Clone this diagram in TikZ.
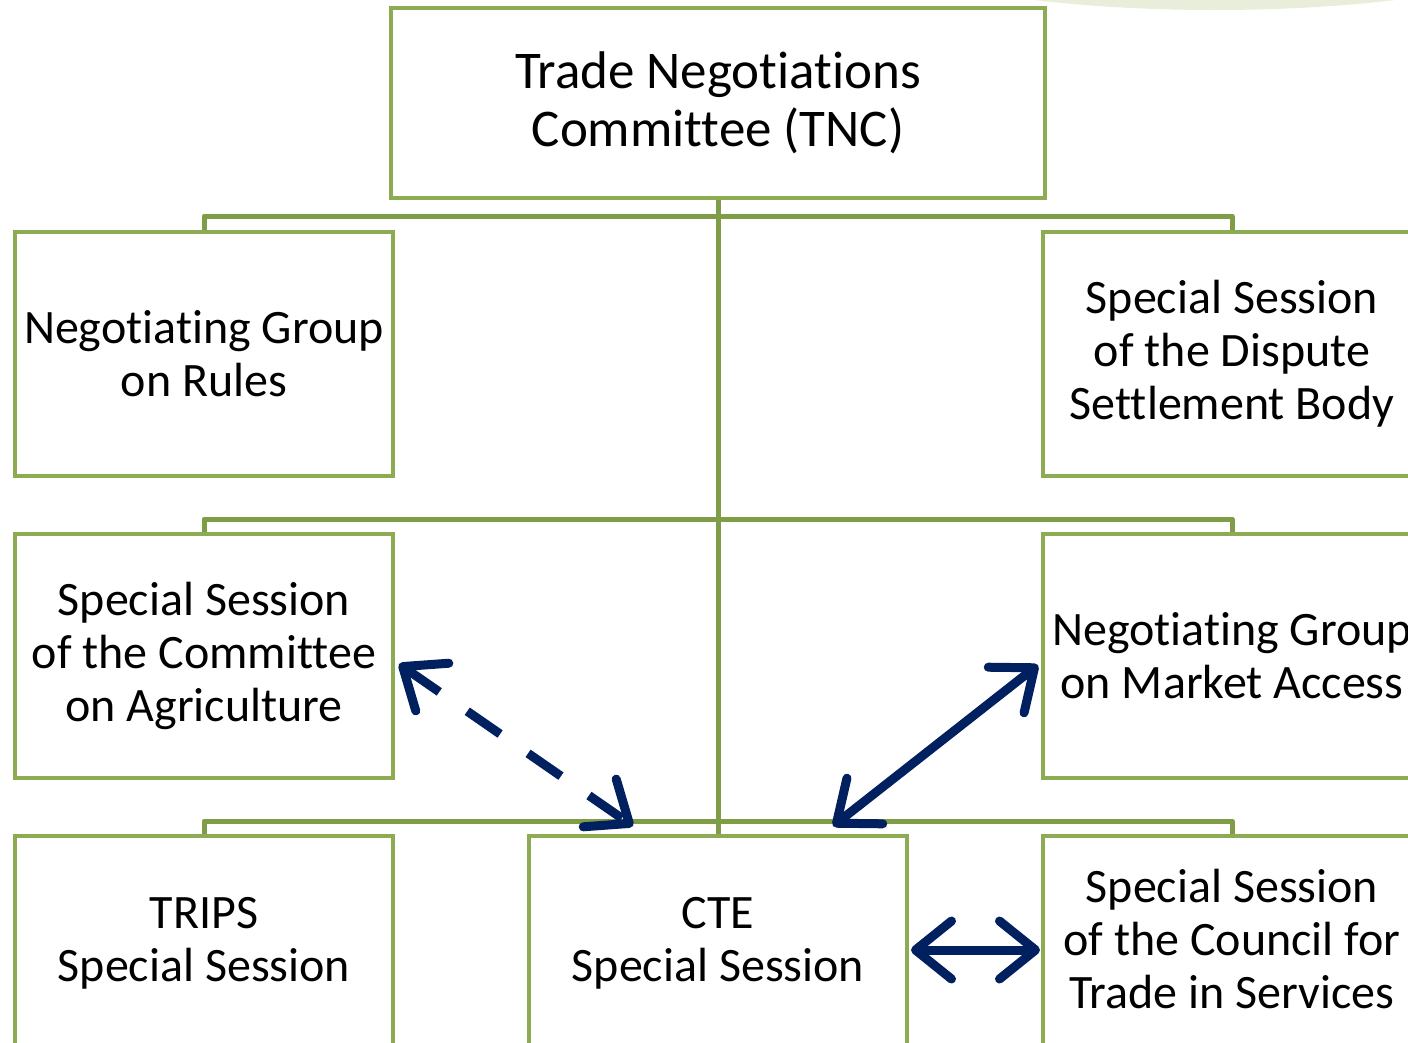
\documentclass[tikz,border=0pt]{standalone}
\usepackage{fontspec}
\setmainfont{Carlito}[Ligatures=NoCommon]
\usetikzlibrary{arrows.meta}
\definecolor{boxgreen}{HTML}{8CAB52}
\definecolor{linegreen}{HTML}{7F9C47}
\definecolor{navy}{HTML}{002060}
\definecolor{paleleaf}{HTML}{E8EEDA}
\tikzstyle{group}=[draw=boxgreen,line width=4pt,fill=white,minimum width=378pt,minimum height=244pt,align=center,font=\fontsize{48}{53}\selectfont,inner sep=0pt]
\tikzstyle{branch}=[draw=linegreen,line width=5pt,line join=round]
\tikzstyle{link}=[draw=navy,line width=9pt,{Straight Barb[length=36pt,width=58pt,line cap=round,line join=round]}-{Straight Barb[length=36pt,width=58pt,line cap=round,line join=round]}]

\begin{document}
\begin{tikzpicture}[x=1pt,y=-1pt]
        \useasboundingbox (0,0) rectangle (1408,1042);
        \clip (0,0) rectangle (1408,1042);
        \fill[paleleaf] (1215,-60) ellipse [x radius=350pt,y radius=70pt];
        % committee and groups
        \node[group,minimum width=654pt,minimum height=190pt,font=\fontsize{53}{58}\selectfont] (tnc) at (718,103) {Trade Negotiations\\Committee (TNC)};
        \node[group] (rules) at (204,354) {Negotiating Group\\on Rules};
        \node[group] (dsb) at (1232,354) {Special Session\\of the Dispute\\Settlement Body};
        \node[group] (agri) at (204,656) {Special Session\\of the Committee\\on Agriculture};
        \node[group] (nama) at (1232,656) {Negotiating Group\\on Market Access};
        \node[group] (trips) at (204,958) {TRIPS\\Special Session\\[-15pt]};
        \node[group] (cte) at (718,958) {CTE\\Special Session\\[-15pt]};
        \node[group] (services) at (1232,958) {Special Session\\of the Council for\\Trade in Services\\[-15pt]};
        % tree lines
        \draw[branch] (tnc.south) -- (cte.north);
        \draw[branch] (rules.north) -- ++(0,-14) -| (dsb.north);
        \draw[branch] (agri.north) -- ++(0,-13) -| (nama.north);
        \draw[branch] (trips.north) -- ++(0,-13) -| (services.north);
        % links of the CTE
        \draw[link,dash pattern=on 40pt off 34pt] ([shift={(4,8)}]agri.east) -- ([shift={(-85,-8)}]cte.north);
        \draw[link] ([shift={(-3,9)}]nama.west) -- ([shift={(115,-8)}]cte.north);
        \draw[link] ([shift={(2,-8)}]cte.east) -- ([shift={(-1,-8)}]services.west);
    \end{tikzpicture}
\end{document}
